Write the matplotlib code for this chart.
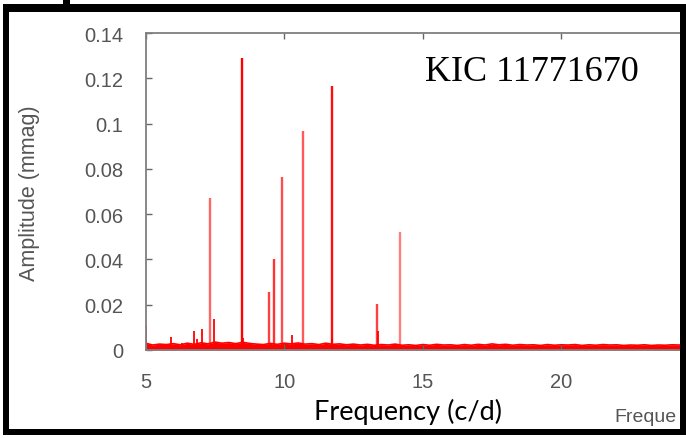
import numpy as np
import matplotlib.pyplot as plt
from matplotlib.patches import Rectangle

# main pulsation peaks (frequency in c/d, amplitude in mmag)
peak_freq = [7.32, 8.48, 9.45, 9.62, 9.93, 10.69, 11.71, 13.34, 14.19]
peak_amp = [0.067, 0.129, 0.0258, 0.040, 0.0765, 0.0965, 0.1165, 0.0202, 0.0522]

# small spikes sticking out of the noise
small_freq = [5.02, 5.91, 6.30, 6.74, 6.86, 7.02, 7.48, 8.50, 10.27, 11.74, 13.40]
small_amp = [0.0105, 0.0056, 0.003, 0.0084, 0.005, 0.0092, 0.0136, 0.0055, 0.0066, 0.0055, 0.0084]

# noise floor, read every 0.25 c/d from 5 to 24.5
noise_freq = np.arange(5.0, 24.75, 0.25)
noise_amp = [0.0030, 0.0022, 0.0026, 0.0024, 0.0028, 0.0023, 0.0030, 0.0025,
             0.0032, 0.0027, 0.0035, 0.0030, 0.0033, 0.0028, 0.0034, 0.0029,
             0.0026, 0.0024, 0.0029, 0.0025, 0.0030, 0.0027, 0.0031, 0.0026,
             0.0028, 0.0024, 0.0030, 0.0025, 0.0027, 0.0023, 0.0026, 0.0022,
             0.0025, 0.0021, 0.0024, 0.0022, 0.0026, 0.0021, 0.0023, 0.0020,
             0.0024, 0.0021, 0.0025, 0.0022, 0.0023, 0.0020, 0.0024, 0.0021,
             0.0025, 0.0022, 0.0027, 0.0023, 0.0025, 0.0021, 0.0024, 0.0022,
             0.0023, 0.0020, 0.0024, 0.0021, 0.0023, 0.0022, 0.0024, 0.0020,
             0.0023, 0.0021, 0.0024, 0.0022, 0.0023, 0.0020, 0.0022, 0.0021,
             0.0023, 0.0020, 0.0022, 0.0021, 0.0023, 0.0022, 0.0021]

peak_alpha = [0.6, 1.0, 0.75, 0.8, 0.7, 0.65, 0.95, 0.75, 0.5]

W, H = 686, 439
fig = plt.figure(figsize=(W / 100, H / 100), dpi=100)
ax = fig.add_axes([145.7 / W, 88 / H, (W - 145.7) / W, 317 / H])

ax.fill_between(noise_freq, 0, noise_amp, color='#ff0000', lw=0)
ax.plot(noise_freq, noise_amp, color='#ff0000', lw=1.2)
ax.vlines(small_freq, 0, small_amp, color='#ff0000', lw=1.3)
for f, a, al in zip(peak_freq, peak_amp, peak_alpha):
    ax.vlines(f, 0, a, color='#ff0000', lw=1.7, alpha=al)

ax.set_xlim(5, 24.5)
ax.set_ylim(0, 0.14)
ax.set_xticks([5, 10, 15, 20])
ax.set_xticklabels(['5', '10', '15', '20'])
ax.set_yticks([0, 0.02, 0.04, 0.06, 0.08, 0.1, 0.12, 0.14])
ax.set_yticklabels(['0', '0.02', '0.04', '0.06', '0.08', '0.1', '0.12', '0.14'])
ax.tick_params(direction='in', length=4, width=1, color='#666666',
               labelcolor='#555555', labelsize=14.5, top=True)
ax.tick_params(axis='y', pad=16)
ax.tick_params(axis='x', pad=16)
for lab in ax.get_xticklabels() + ax.get_yticklabels():
    lab.set_family('Liberation Sans')
ax.spines['right'].set_visible(False)
for s in ['left', 'top', 'bottom']:
    ax.spines[s].set_color('#7f7f7f')
    ax.spines[s].set_linewidth(1.3)

fig.text(30 / W, 1 - 193 / H, 'Amplitude (mmag)', rotation=90, ha='center', va='center',
         color='#555555', fontsize=15.5, family='Liberation Sans')
fig.text(408 / W, 1 - 412 / H, 'Frequency (c/d)', ha='center', va='center',
         color='black', fontsize=19.5, family='Lato')
# second, cropped axis title at the right edge of the screenshot
fig.text(614 / W, 1 - 418 / H, 'Freque', ha='left', va='center',
         color='#555555', fontsize=14, family='Liberation Sans')
fig.text(425 / W, 1 - 73 / H, 'KIC 11771670', ha='left', va='center',
         color='black', fontsize=26, family='Liberation Serif')

# black frame of the screenshot
for x0, y0, x1, y1 in [(3, 5, 9, 436), (3, 5, 686, 13), (3, 430, 686, 436),
                       (680, 5, 686, 436), (63, 0, 70, 5)]:
    fig.add_artist(Rectangle((x0 / W, 1 - y1 / H), (x1 - x0) / W, (y1 - y0) / H,
                             transform=fig.transFigure, color='black', lw=0))

fig.savefig('out.png', dpi=100)
